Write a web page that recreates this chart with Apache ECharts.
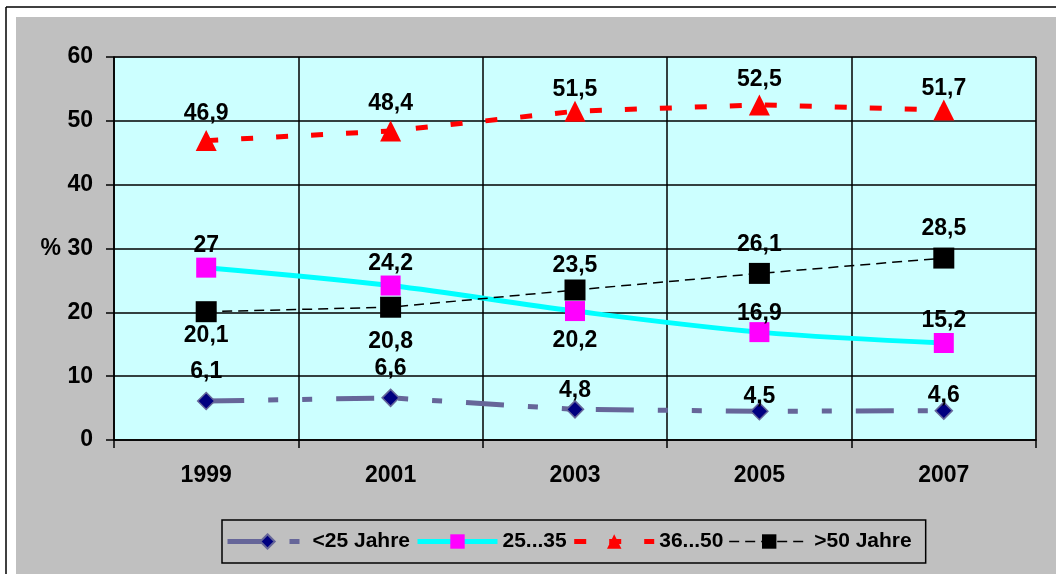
<!DOCTYPE html>
<html>
<head>
<meta charset="utf-8">
<script src="https://cdn.jsdelivr.net/npm/echarts@6/dist/echarts.min.js"></script>
<style>
html,body{margin:0;padding:0;background:#fff;}
#c{width:1056px;height:574px;}
</style>
</head>
<body>
<div id="c"></div>
<script>
const categories = ['1999', '2001', '2003', '2005', '2007'];
const seriesNames = ['<25 Jahre', '25...35', '36...50', '>50 Jahre'];
const under25 = [6.1, 6.6, 4.8, 4.5, 4.6];
const age25to35 = [27, 24.2, 20.2, 16.9, 15.2];
const age36to50 = [46.9, 48.4, 51.5, 52.5, 51.7];
const over50 = [20.1, 20.8, 23.5, 26.1, 28.5];
const yTicks = [0, 10, 20, 30, 40, 50, 60];

// label placement (layout only)
const posUnder25 = ['top', 'top', 'top', 'top', 'top'];
const distUnder25 = [9, 8, -2, -6, -6];
const pos2535 = ['top', 'top', 'bottom', 'top', 'top'];
const dist2535 = [0, 0, 8, -3, 1];
const pos3650 = ['top', 'top', 'top', 'top', 'top'];
const dist3650 = [5, 5, 0, 3, -1];
const posOver50 = ['bottom', 'bottom', 'top', 'top', 'top'];
const distOver50 = [2, 12, 2, 7, 7];

const FONT = 'Liberation Sans, Arial, sans-serif';
const fmt = v => String(v).replace('.', ',');

function labeled(values, positions, distances) {
  return values.map((v, i) => ({
    value: v,
    label: { position: positions[i], distance: distances[i] }
  }));
}

const labelBase = {
  show: true,
  color: '#000',
  fontFamily: FONT,
  fontWeight: 'bold',
  fontSize: 23,
  formatter: p => fmt(p.value)
};

const chart = echarts.init(document.getElementById('c'), null, { renderer: 'canvas' });
chart.setOption({
  backgroundColor: '#ffffff',
  animation: false,
  graphic: [
    { type: 'rect', z: -100, shape: { x: 16, y: 17, width: 1040, height: 557 }, style: { fill: '#C0C0C0' } },
    { type: 'line', z: -100, shape: { x1: 6, y1: 7, x2: 6, y2: 574 }, style: { stroke: '#000', lineWidth: 1.5 } },
    { type: 'line', z: -100, shape: { x1: 6, y1: 7, x2: 1056, y2: 7 }, style: { stroke: '#000', lineWidth: 1.5 } }
  ],
  grid: {
    left: 114, right: 20, top: 57, bottom: 134,
    show: true, backgroundColor: '#CCFFFF', borderColor: '#808080', borderWidth: 1.5
  },
  legend: {
    left: 222, top: 520,
    data: seriesNames,
    orient: 'horizontal',
    backgroundColor: '#C0C0C0',
    borderColor: '#000', borderWidth: 1.5, borderRadius: 0,
    padding: [11, 14, 11, 3],
    itemWidth: 80, itemHeight: 18, itemGap: 5,
    lineStyle: { width: 'inherit' },
    textStyle: { color: '#000', fontFamily: FONT, fontWeight: 'bold', fontSize: 21 }
  },
  xAxis: {
    type: 'category',
    data: categories,
    boundaryGap: true,
    axisLine: { show: true, lineStyle: { color: '#000', width: 1.5 } },
    axisTick: { show: true, alignWithLabel: false, length: 8, inside: false, lineStyle: { color: '#000', width: 1.5 } },
    splitLine: { show: true, lineStyle: { color: '#000', width: 1.5 } },
    axisLabel: { color: '#000', fontFamily: FONT, fontWeight: 'bold', fontSize: 23, margin: 24 }
  },
  yAxis: {
    type: 'value',
    min: yTicks[0], max: yTicks[yTicks.length - 1], interval: 10,
    axisLine: { show: true, lineStyle: { color: '#000', width: 1.5 } },
    axisTick: { show: true, length: 8, inside: false, lineStyle: { color: '#000', width: 1.5 } },
    splitLine: { show: true, lineStyle: { color: '#000', width: 1.5 } },
    axisLabel: {
      color: '#000', fontFamily: FONT, fontWeight: 'bold', fontSize: 23, margin: 21,
      formatter: v => (v === 30 ? '% 30' : String(v))
    }
  },
  series: [
    {
      name: seriesNames[0], type: 'line', data: labeled(under25, posUnder25, distUnder25),
      symbol: 'diamond', symbolSize: 17,
      itemStyle: { color: '#000080', borderColor: '#666699', borderWidth: 1.5 },
      lineStyle: { color: '#666699', width: 5, type: [38, 24, 10, 24, 10, 24] },
      label: Object.assign({}, labelBase),
      z: 2
    },
    {
      name: seriesNames[1], type: 'line', data: labeled(age25to35, pos2535, dist2535),
      symbol: 'rect', symbolSize: 20, smooth: 0.35,
      itemStyle: { color: '#FF00FF' },
      lineStyle: { color: '#00FFFF', width: 5, type: 'solid' },
      label: Object.assign({}, labelBase),
      z: 3
    },
    {
      name: seriesNames[2], type: 'line', data: labeled(age36to50, pos3650, dist3650),
      symbol: 'triangle', symbolSize: 21,
      itemStyle: { color: '#FF0000' },
      lineStyle: { color: '#FF0000', width: 5, type: [12, 23] },
      label: Object.assign({}, labelBase),
      z: 4
    },
    {
      name: seriesNames[3], type: 'line', data: labeled(over50, posOver50, distOver50),
      symbol: 'rect', symbolSize: 21,
      itemStyle: { color: '#000000' },
      lineStyle: { color: '#000000', width: 1.5, type: [10, 6] },
      label: Object.assign({}, labelBase),
      z: 5
    }
  ]
});
</script>
</body>
</html>
